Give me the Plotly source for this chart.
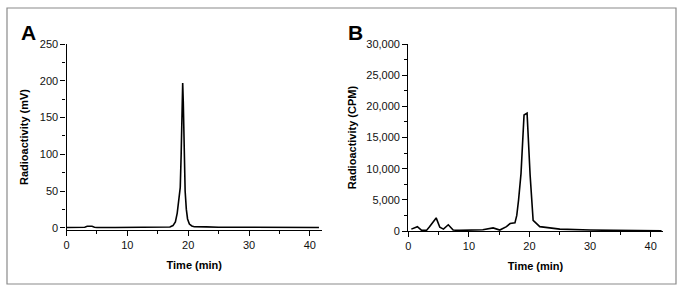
import plotly.graph_objects as go

W, H = 683, 292

# Panel A: radio-HPLC trace (mV)
time_a = [0, 1, 2, 3, 3.4, 3.8, 4.2, 4.6, 5, 8, 10.5, 11, 11.5, 15, 17, 17.5, 17.9, 18.2,
          18.5, 18.7, 18.85, 19.0, 19.1, 19.2, 19.35, 19.5, 19.7, 19.9, 20.2, 20.6, 21, 22,
          23, 25, 30, 35, 41.5]
signal_a = [0.5, 0.5, 0.5, 0.8, 2, 2.5, 2, 0.8, 0.5, 0.3, 0.5, 1.0, 0.5, 0.3, 1, 3, 8, 20,
            45, 55, 100, 170, 197, 170, 100, 50, 25, 12, 5, 2.5, 1.5, 1,
            1.2, 0.8, 0.5, 0.5, 0.5]

# Panel B: fraction counting (CPM)
time_b = [0.5, 1.5, 2.2, 3.0, 3.5, 4.6, 5.2, 5.8, 6.6, 7.4, 8.5, 10, 12.3, 14.0, 15.1, 16.2,
          16.8, 17.6, 17.9, 18.2, 18.6, 19.1, 19.6, 20.1, 20.6, 21.7, 22.5, 25, 30, 35, 41.8]
cpm_b = [300, 700, 100, 100, 700, 2100, 600, 300, 1000, 150, 100, 100, 200, 500, 150, 700,
         1200, 1300, 2500, 5000, 9200, 18600, 18900, 9000, 1700, 700, 600, 300, 150, 80, 30]

xticks = [0, 10, 20, 30, 40]

font = "Liberation Sans, Arial, sans-serif"

fig = go.Figure()
fig.add_trace(go.Scatter(x=time_a, y=signal_a, mode="lines",
                         line=dict(color="black", width=1.6), xaxis="x", yaxis="y",
                         showlegend=False, hoverinfo="skip"))
fig.add_trace(go.Scatter(x=time_b, y=cpm_b, mode="lines",
                         line=dict(color="black", width=1.6), xaxis="x2", yaxis="y2",
                         showlegend=False, hoverinfo="skip"))

ax_common = dict(showgrid=False, zeroline=False, showline=True, linecolor="black",
                 linewidth=1.3, ticks="outside", ticklen=5, tickwidth=1, tickcolor="black",
                 automargin=False,
                 tickfont=dict(size=11, family=font, color="#111"))

xa = dict(ax_common, range=[0, 42], tickvals=xticks,
          minor=dict(ticks="outside", ticklen=3, dtick=5, tick0=0, tickcolor="black"),
          title=dict(text="<b>Time (min)</b>", font=dict(size=11, family=font, color="black"),
                     standoff=10))

fig.update_layout(
    width=W, height=H,
    margin=dict(l=0, r=0, t=0, b=0),
    paper_bgcolor="white", plot_bgcolor="white",
    xaxis=dict(xa, domain=[66.5 / W, 322 / W], anchor="y"),
    yaxis=dict(ax_common, domain=[1 - 230 / H, 1 - 44 / H], range=[-3, 250], dtick=50,
               minor=dict(ticks="outside", ticklen=3, dtick=25, tick0=0, tickcolor="black"),
               anchor="x",
               title=dict(text="<b>Radioactivity (mV)</b>",
                          font=dict(size=11, family=font, color="black"), standoff=8)),
    xaxis2=dict(xa, domain=[408.3 / W, 662.8 / W], anchor="y2"),
    yaxis2=dict(ax_common, domain=[1 - 231 / H, 1 - 44 / H], range=[0, 30000], dtick=5000,
                tickformat=",d",
                minor=dict(ticks="outside", ticklen=3, dtick=2500, tick0=0, tickcolor="black"),
                anchor="x2",
                title=dict(text="<b>Radioactivity (CPM)</b>",
                           font=dict(size=11, family=font, color="black"), standoff=7)),
    shapes=[dict(type="rect", xref="paper", yref="paper",
                 x0=7 / W, x1=676 / W, y0=1 - 284 / H, y1=1 - 8 / H,
                 line=dict(color="#8a8a8a", width=1.2), fillcolor="rgba(0,0,0,0)")],
    annotations=[
        dict(text="<b>A</b>", xref="paper", yref="paper", x=20 / W, y=1 - 45 / H,
             xanchor="left", yanchor="bottom", borderpad=0,
             showarrow=False, font=dict(size=21, family=font, color="black")),
        dict(text="<b>B</b>", xref="paper", yref="paper", x=347 / W, y=1 - 45 / H,
             xanchor="left", yanchor="bottom", borderpad=0,
             showarrow=False, font=dict(size=21, family=font, color="black")),
    ],
)

fig.write_html("out.html", config={"displayModeBar": False},
               post_script="document.body.style.margin='0';document.body.style.overflow='hidden';")
